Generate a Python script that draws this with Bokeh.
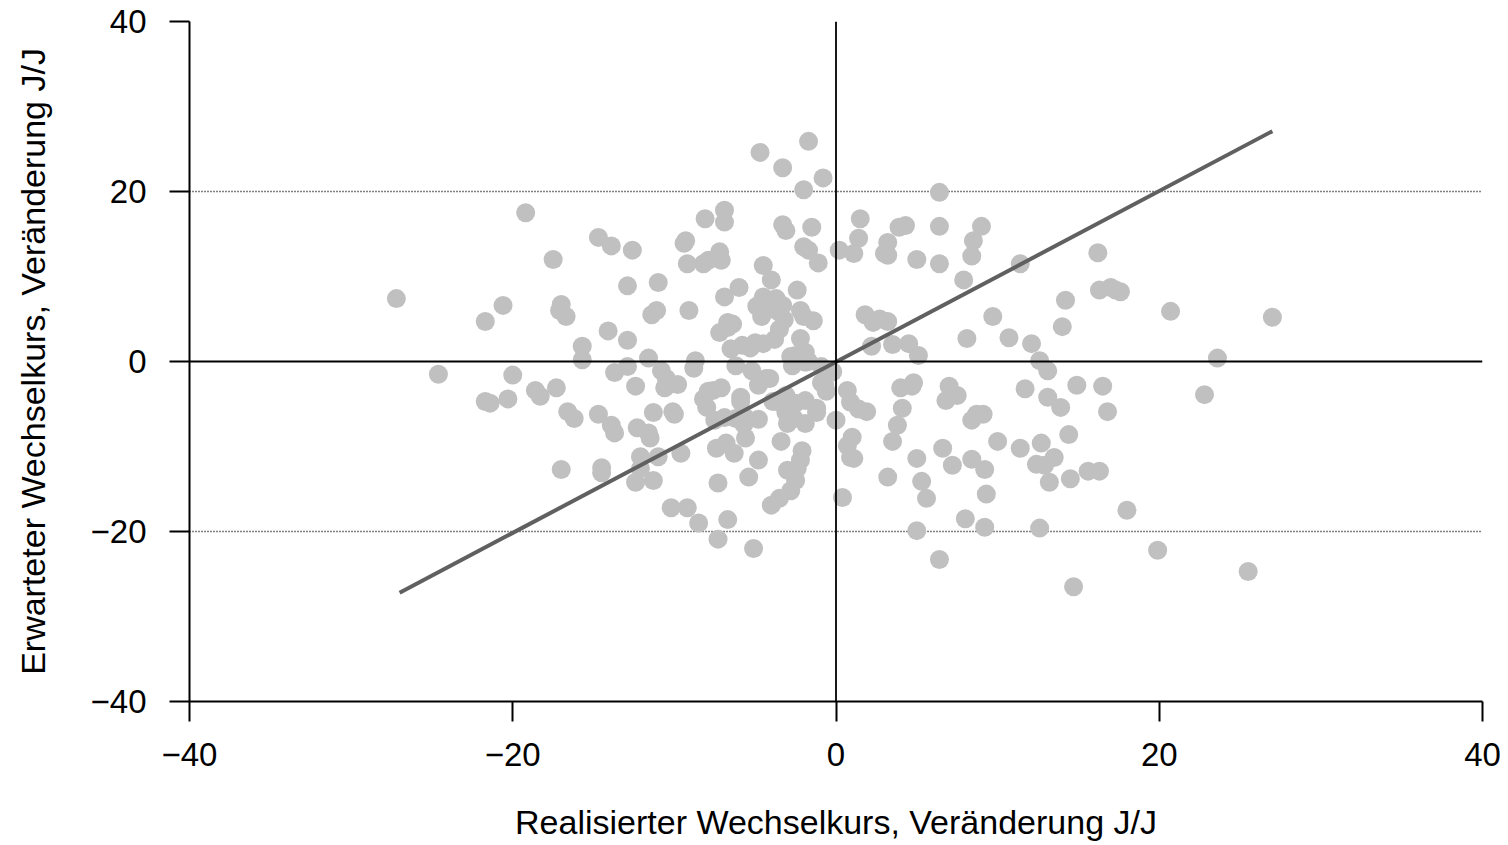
from bokeh.plotting import figure
from bokeh.models import ColumnDataSource, Span, FixedTicker
from bokeh.embed import file_html
from bokeh.resources import INLINE

# realised vs expected exchange rate change, y/y (%)
realisiert = [
    -27.2, -24.6, -21.7, -21.7, -21.4, -20.6, -20.3, -20.0, -19.2, -18.6,
    -18.3, -17.5, -17.3, -17.0, -17.1, -16.7, -17.0, -16.6, -16.2, -15.7,
    -15.7, -14.7, -14.7, -14.5, -14.5, -14.1, -13.9, -13.9, -13.7, -13.7,
    -12.9, -12.9, -12.9, -12.6, -12.4, -12.3, -12.1, -12.1, -12.4, -11.6,
    -11.6, -11.5, -11.4, -11.3, -11.3, -11.1, -11.0, -11.0, -10.8, -10.6,
    -10.5, -10.3, -10.2, -10.1, -10.0, -9.8, -9.6, -9.2, -9.4, -9.3,
    -9.2, -9.1, -8.8, -8.7, -8.5, -8.2, -8.1, -8.2, -8.0, -7.9,
    -7.9, -7.6, -7.5, -7.4, -7.3, -7.3, -7.2, -7.1, -7.2, -7.1,
    -6.9, -6.9, -6.9, -6.9, -6.7, -6.7, -6.8, -6.7, -6.5, -6.4,
    -6.3, -6.2, -6.2, -6.0, -5.9, -5.9, -5.8, -5.7, -5.6, -5.6,
    -5.4, -5.3, -5.1, -5.2, -5.0, -4.9, -4.8, -4.8, -4.8, -4.7,
    -4.6, -4.5, -4.5, -4.5, -4.3, -4.2, -4.1, -4.0, -4.0, -3.9,
    -3.8, -3.7, -3.6, -3.5, -3.5, -3.5, -3.4, -3.3, -3.3, -3.3,
    -3.2, -3.1, -3.1, -3.0, -3.1, -3.0, -3.0, -2.8, -2.8, -2.7,
    -2.6, -2.5, -2.5, -2.4, -2.4, -2.2, -2.2, -2.2, -2.1, -2.0,
    -2.0, -2.0, -1.9, -1.9, -1.9, -1.9, -1.7, -1.7, -1.7, -1.5,
    -1.4, -1.2, -1.2, -1.1, -0.9, -0.8, -0.9, -0.7, -0.6, -0.2,
    0.2, 0.0, 0.4, 0.7, 0.7, 0.9, 0.9, 1.0, 1.1, 1.1,
    1.4, 1.4, 1.5, 1.8, 1.9, 2.3, 2.2, 2.7, 3.0, 3.2,
    3.2, 3.2, 3.2, 3.5, 3.5, 3.9, 3.8, 4.1, 4.0, 4.3,
    4.5, 4.7, 4.8, 5.0, 5.0, 5.1, 5.0, 5.3, 5.6, 6.4,
    6.4, 6.4, 6.4, 6.6, 6.8, 7.0, 7.2, 7.5, 7.9, 8.0,
    8.1, 8.4, 8.4, 8.4, 8.5, 8.7, 9.0, 9.1, 9.2, 9.3,
    9.2, 9.7, 10.0, 10.7, 11.4, 11.4, 11.7, 12.1, 12.4, 12.6,
    12.7, 12.6, 12.9, 13.1, 13.1, 13.2, 13.5, 13.9, 14.0, 14.2,
    14.4, 14.5, 14.7, 14.9, 15.6, 16.2, 16.3, 16.3, 16.5, 16.8,
    17.0, 17.3, 17.6, 18.0, 19.9, 20.7, 22.8, 23.6, 25.5, 27.0,
    -2.5,
]
erwartet = [
    7.4, -1.5, 4.7, -4.7, -4.9, 6.6, -4.4, -1.6, 17.5, -3.4,
    -4.1, 12.0, -3.1, 6.7, 6.0, 5.3, -12.7, -5.9, -6.7, 1.8,
    0.2, 14.6, -6.2, -12.5, -13.1, 3.6, 13.6, -7.5, -1.3, -8.4,
    8.9, 2.5, -0.6, 13.1, -2.9, -7.8, -11.2, -12.6, -14.2, 0.4,
    -8.4, -9.0, 5.5, -6.0, -14.0, 6.0, 9.3, -11.2, -1.1, -3.1,
    -2.0, -2.7, -17.2, -5.9, -6.2, -2.7, -10.8, -17.2, 13.9, 14.2,
    11.5, 6.0, -0.8, 0.1, -19.0, -4.4, 16.8, 11.5, -5.4, -3.5,
    11.9, -3.4, -6.9, -10.2, -20.9, -14.3, 12.9, -3.1, 3.4, 11.9,
    17.8, 16.4, 7.6, -6.6, 4.6, 4.0, -9.6, -18.6, 1.5, 4.4,
    -10.8, -6.7, -0.5, 8.7, -4.2, -4.7, 1.9, -7.4, -9.0, -6.6,
    -13.6, 1.6, -22.0, -1.1, 2.2, 6.5, -6.8, -11.6, -2.8, 24.6,
    5.3, 7.6, 2.1, 11.3, -2.0, 7.1, -2.0, -16.9, 9.6, -4.7,
    2.6, 7.4, 5.9, 3.8, -4.8, -16.1, -9.4, 22.8, 6.6, 16.1,
    4.9, -4.0, 15.4, -4.7, -6.0, -7.3, -12.8, -15.2, 0.6, -0.5,
    -6.7, -4.9, 0.7, -12.6, 8.4, -11.6, 6.0, 2.7, -10.5, 20.2,
    5.3, 13.5, -0.1, 1.1, -7.3, -4.6, 25.9, 13.1, 0.0, 15.8,
    4.8, -5.5, -6.0, 11.6, -2.5, 21.6, -0.6, -2.8, -3.5, -1.2,
    13.1, -6.9, -16.0, -3.4, -9.9, -4.8, -11.3, -8.9, 12.7, -11.4,
    14.5, -5.6, 16.8, 5.5, -5.9, 4.6, 1.8, 5.0, 12.7, 12.5,
    4.7, -13.6, 14.0, 2.0, -9.4, 15.8, -7.5, -5.5, -3.1, 16.0,
    2.1, -2.9, -2.5, 12.0, -11.4, 0.7, -19.9, -14.1, -16.1, 19.9,
    15.9, 11.5, -23.3, -10.2, -4.6, -2.9, -12.2, -4.0, 9.6, -18.5,
    2.7, 12.4, -11.5, -6.9, 14.2, -6.2, 15.9, -6.2, -12.7, -15.6,
    -19.5, 5.3, -9.4, 2.8, 11.5, -10.2, -3.2, 2.1, -12.1, -19.6,
    -9.6, 0.1, -12.2, -1.1, -4.2, -14.2, -11.3, -5.4, 4.1, 7.2,
    -8.6, -13.8, -26.5, -2.8, -12.9, 12.8, 8.4, -12.9, -2.9, -5.9,
    8.7, 8.4, 8.2, -17.5, -22.2, 5.9, -3.9, 0.4, -24.7, 5.2,
    -14.0,
]
# end points of the fitted line
trend_x = [-27.0, 27.0]
trend_y = [-27.2, 27.1]
ticks = [-40, -20, 0, 20, 40]
tick_labels = {-40: "\u221240", -20: "\u221220", 0: "0", 20: "20", 40: "40"}

FONT = "Liberation Sans"

source = ColumnDataSource(dict(x=realisiert, y=erwartet))

p = figure(
    frame_width=1293,
    frame_height=680,
    min_border_left=189,
    min_border_right=24,
    min_border_top=21,
    min_border_bottom=142,
    x_range=(-40, 40),
    y_range=(-40, 40),
    output_backend="svg",
    toolbar_location=None,
)
p.outline_line_color = None
p.background_fill_color = "white"

# grid: dotted horizontal lines only
p.xgrid.grid_line_color = None
p.ygrid.ticker = FixedTicker(ticks=[-20, 20, 40])
p.ygrid.grid_line_color = "black"
p.ygrid.grid_line_width = 1.4
p.ygrid.grid_line_dash = "1 2"

# zero lines
p.add_layout(Span(location=0, dimension="width", line_color="black", line_width=1.8))
p.add_layout(Span(location=0, dimension="height", line_color="black", line_width=1.8))

p.scatter("x", "y", source=source, size=19, fill_color="#c0c0c0", line_color=None)
p.line(trend_x, trend_y, line_color="#606060", line_width=4)

for ax in (p.xaxis[0], p.yaxis[0]):
    ax.ticker = FixedTicker(ticks=ticks)
    ax.major_label_overrides = tick_labels
    ax.minor_tick_line_color = None
    ax.major_tick_in = 0
    ax.major_tick_out = 20
    ax.major_tick_line_width = 2
    ax.major_tick_line_color = "black"
    ax.axis_line_width = 2
    ax.axis_line_color = "black"
    ax.major_label_text_font = FONT
    ax.major_label_text_font_size = "33px"
    ax.major_label_text_color = "black"
    ax.axis_label_text_font = FONT
    ax.axis_label_text_font_size = "34px"
    ax.axis_label_text_font_style = "normal"
    ax.axis_label_text_color = "black"

p.xaxis.axis_label = "Realisierter Wechselkurs, Veränderung J/J"
p.yaxis.axis_label = "Erwarteter Wechselkurs, Veränderung J/J"
p.xaxis.major_label_standoff = 21
p.xaxis.axis_label_standoff = 34
p.yaxis.major_label_standoff = 23
p.yaxis.axis_label_standoff = 36

open("out.html", "w").write(file_html(p, INLINE))
